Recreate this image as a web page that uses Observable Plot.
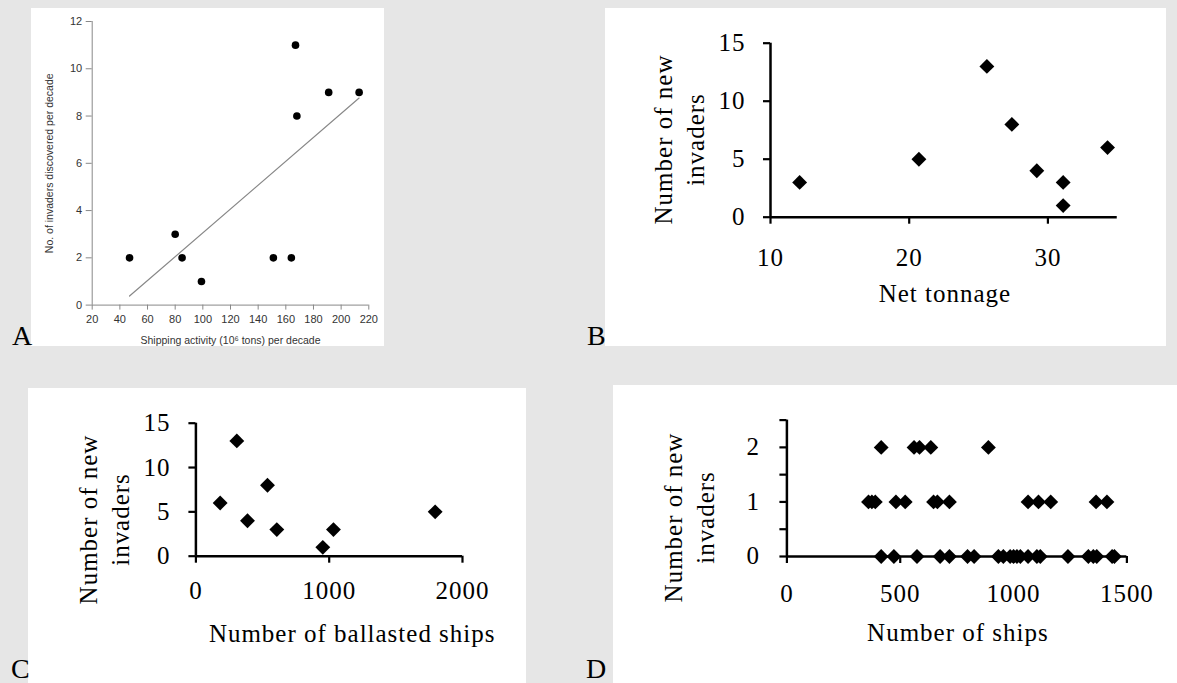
<!DOCTYPE html>
<html>
<head>
<meta charset="utf-8">
<script src="https://cdn.jsdelivr.net/npm/d3@7"></script>
<script src="https://cdn.jsdelivr.net/npm/@observablehq/plot@0.6"></script>
<style>
html, body { margin: 0; padding: 0; background: #e6e6e6; }
#root { position: relative; width: 1177px; height: 683px; overflow: hidden; background: #e6e6e6; }
.panel { position: absolute; background: #fff; overflow: hidden; }
.panel svg { display: block; }
.serif svg { letter-spacing: 1px; }
.letter { position: absolute; font-family: "Liberation Serif", "Times New Roman", serif; font-size: 28px; line-height: 28px; color: #000; }
</style>
</head>
<body>
<div id="root">
  <div class="panel" id="pA" style="left:31px;top:8px;width:353px;height:338px;"></div>
  <div class="panel serif" id="pB" style="left:605px;top:8px;width:561px;height:338px;"></div>
  <div class="panel serif" id="pC" style="left:28.3px;top:388px;width:497.4px;height:295px;"></div>
  <div class="panel serif" id="pD" style="left:613.3px;top:384.7px;width:563.7px;height:298.3px;"></div>
  <div class="letter" style="left:12px;top:321.6px;">A</div>
  <div class="letter" style="left:587px;top:321.6px;">B</div>
  <div class="letter" style="left:11px;top:655px;">C</div>
  <div class="letter" style="left:586px;top:655px;">D</div>
</div>
<script>
// ---- Panel A: shipping activity vs invaders discovered per decade ----
const aShipping = [47, 80, 85, 99, 151, 164, 167, 168, 191, 213];
const aInvaders = [2, 3, 2, 1, 2, 2, 11, 8, 9, 9];
const aXTicks = [20, 40, 60, 80, 100, 120, 140, 160, 180, 200, 220];
const aYTicks = [0, 2, 4, 6, 8, 10, 12];
const aXLabel = "Shipping activity (10\u2076 tons) per decade";
const aYLabel = "No. of invaders discovered per decade";

// ---- Panel B: net tonnage ----
const bTonnage = [12.1, 20.7, 25.6, 27.4, 29.2, 31.1, 31.1, 34.3];
const bInvaders = [3, 5, 13, 8, 4, 3, 1, 6];
const bXTicks = [10, 20, 30];
const bYTicks = [0, 5, 10, 15];
const bXLabel = "Net tonnage";

// ---- Panel C: ballasted ships ----
const cBallasted = [182, 307, 387, 537, 607, 952, 1032, 1795];
const cInvaders = [6, 13, 4, 8, 3, 1, 3, 5];
const cXTicks = [0, 1000, 2000];
const cYTicks = [0, 5, 10, 15];
const cXLabel = "Number of ballasted ships";

// ---- Panel D: number of ships ----
const dShips = [
  416, 472, 574, 676, 717, 797, 826, 933, 955, 985, 1000, 1015, 1030, 1064, 1103, 1118, 1240, 1330, 1352, 1367, 1435, 1445,
  360, 375, 390, 481, 522, 647, 664, 717, 1064, 1110, 1164, 1364, 1412,
  416, 561, 585, 635, 889
];
const dInvaders = [
  0, 0, 0, 0, 0, 0, 0, 0, 0, 0, 0, 0, 0, 0, 0, 0, 0, 0, 0, 0, 0, 0,
  1, 1, 1, 1, 1, 1, 1, 1, 1, 1, 1, 1, 1,
  2, 2, 2, 2, 2
];
const dXTicks = [0, 500, 1000, 1500];
const dYTicks = [0, 0.5, 1, 1.5, 2, 2.5];
const dXLabel = "Number of ships";

const yLabelNew = "Number of new\ninvaders";

const dataA = aShipping.map((x, i) => ({x, y: aInvaders[i]}));
const dataB = bTonnage.map((x, i) => ({x, y: bInvaders[i]}));
const dataC = cBallasted.map((x, i) => ({x, y: cInvaders[i]}));
const dataD = dShips.map((x, i) => ({x, y: dInvaders[i]}));

const sans = '"Liberation Sans", Arial, Helvetica, sans-serif';
const serif = '"Liberation Serif", "Times New Roman", serif';
const plain = d => String(d);

// Panel A
const plotA = Plot.plot({
  width: 353, height: 338,
  marginLeft: 60.7, marginRight: 15.7, marginTop: 13, marginBottom: 41.4,
  style: {fontFamily: sans, fontSize: "11px", background: "transparent", color: "#333"},
  x: {domain: [20, 220]},
  y: {domain: [0, 12]},
  marks: [
    Plot.ruleY([0], {stroke: "#888", strokeWidth: 1}),
    Plot.ruleX([20], {stroke: "#888", strokeWidth: 1}),
    Plot.axisX({ticks: aXTicks, tickSize: 5, tickPadding: 5, label: null, color: "#333", stroke: "#888", tickFormat: plain}),
    Plot.axisY({ticks: aYTicks, tickSize: 6, tickPadding: 4, label: null, color: "#333", stroke: "#888", tickFormat: plain}),
    Plot.linearRegressionY(dataA, {x: "x", y: "y", stroke: "#888", strokeWidth: 1.2, ci: 0}),
    Plot.dot(dataA, {x: "x", y: "y", r: 3.8, fill: "#000", stroke: "none"}),
    Plot.text([aXLabel], {text: d => d, frameAnchor: "bottom", textAnchor: "middle", lineAnchor: "middle", dy: 35.5, fill: "#333", fontSize: 10.5}),
    Plot.text([aYLabel], {text: d => d, frameAnchor: "left", textAnchor: "middle", lineAnchor: "middle", rotate: -90, dx: -42.4, fill: "#333", fontSize: 10.5})
  ]
});
document.getElementById("pA").appendChild(plotA);

function serifPlot({data, width, height, margins, xDomain, yDomain, xTicks, yTicks, yFormat, xLabel, xPad, yPad, xdx, xdy, ydx, ydy}) {
  return Plot.plot({
    width, height,
    marginLeft: margins[0], marginRight: margins[1], marginTop: margins[2], marginBottom: margins[3],
    style: {fontFamily: serif, fontSize: "25px", background: "transparent", color: "#000"},
    x: {domain: xDomain},
    y: {domain: yDomain},
    marks: [
      Plot.axisX({ticks: xTicks, tickSize: 7, tickPadding: xPad, label: null, strokeWidth: 2.2, color: "#000", tickFormat: plain}),
      Plot.axisY({ticks: yTicks, tickSize: 7, tickPadding: yPad, label: null, strokeWidth: 2.2, color: "#000", tickFormat: yFormat}),
      Plot.ruleY([yDomain[0]], {stroke: "#000", strokeWidth: 2.5}),
      Plot.ruleX([xDomain[0]], {stroke: "#000", strokeWidth: 2.5}),
      Plot.dot(data, {x: "x", y: "y", symbol: "diamond2", r: 6.7, fill: "#000", stroke: "none"}),
      Plot.text([xLabel], {text: d => d, frameAnchor: "bottom", textAnchor: "middle", lineAnchor: "middle", dx: xdx, dy: xdy, fill: "#000", fontSize: 25}),
      Plot.text([yLabelNew], {text: d => d, frameAnchor: "left", textAnchor: "middle", lineAnchor: "middle", rotate: -90, dx: ydx, dy: ydy, lineHeight: 1.26, fill: "#000", fontSize: 25})
    ]
  });
}

const intFmt = d => Number.isInteger(d) ? String(d) : "";

document.getElementById("pB").appendChild(serifPlot({
  data: dataB, width: 561, height: 338,
  margins: [165, 49.25, 34.7, 129.3],
  xDomain: [10, 35], yDomain: [0, 15], xTicks: bXTicks, yTicks: bYTicks, yFormat: intFmt,
  xLabel: bXLabel, xPad: 24, yPad: 18, xdx: 1, xdy: 76.5, ydx: -92.6, ydy: 9.3
}));

document.getElementById("pC").appendChild(serifPlot({
  data: dataC, width: 497.4, height: 295,
  margins: [167.4, 63.4, 34.7, 127.3],
  xDomain: [0, 2000], yDomain: [0, 15], xTicks: cXTicks, yTicks: cYTicks, yFormat: intFmt,
  xLabel: cXLabel, xPad: 18.5, yPad: 18.5, xdx: 23, xdy: 78, ydx: -92.8, ydy: 29.8
}));

document.getElementById("pD").appendChild(serifPlot({
  data: dataD, width: 563.7, height: 298.3,
  margins: [173.4, 50.3, 34.6, 127.3],
  xDomain: [0, 1500], yDomain: [0, 2.5], xTicks: dXTicks, yTicks: dYTicks, yFormat: intFmt,
  xLabel: dXLabel, xPad: 21, yPad: 20, xdx: 1, xdy: 77, ydx: -99.2, ydy: 29.2
}));
</script>
</body>
</html>
